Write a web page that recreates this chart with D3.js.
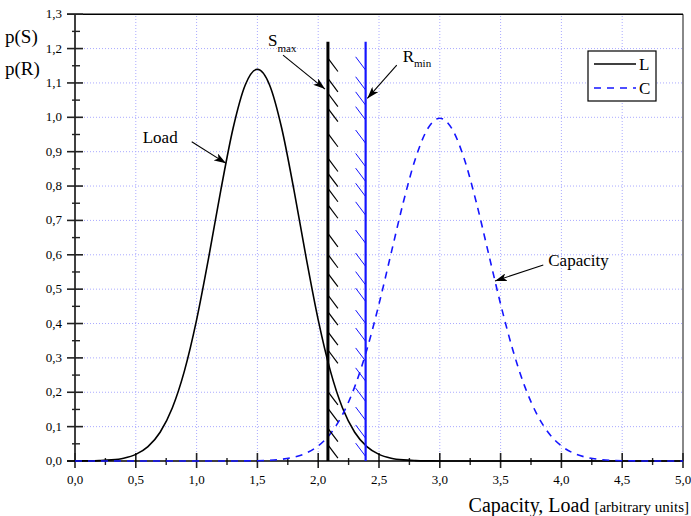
<!DOCTYPE html>
<html>
<head>
<meta charset="utf-8">
<script src="https://cdn.jsdelivr.net/npm/d3@7"></script>
<style>
  body { margin: 0; background: #fff; }
  svg text { font-family: "Liberation Serif", "Times New Roman", serif; fill: #000; }
</style>
</head>
<body>
<div id="chart"></div>
<script>
// x positions of the sampled curves
const xValues = [0.0, 0.1, 0.2, 0.3, 0.4, 0.5, 0.6, 0.7, 0.8, 0.9, 1.0, 1.1, 1.2, 1.3, 1.4, 1.5,
  1.6, 1.7, 1.8, 1.9, 2.0, 2.1, 2.2, 2.3, 2.4, 2.5, 2.6, 2.7, 2.8, 2.9, 3.0, 3.1, 3.2, 3.3,
  3.4, 3.5, 3.6, 3.7, 3.8, 3.9, 4.0, 4.1, 4.2, 4.3, 4.4, 4.5, 4.6, 4.7, 4.8, 4.9, 5.0];

// Load L, p(S)
const loadValues = [0.0001, 0.0004, 0.0012, 0.0032, 0.0082, 0.0192, 0.0418, 0.0837, 0.1543, 0.2623,
  0.4108, 0.5933, 0.7896, 0.9682, 1.0942, 1.1398, 1.0942, 0.9682, 0.7896, 0.5933, 0.4108,
  0.2623, 0.1543, 0.0837, 0.0418, 0.0192, 0.0082, 0.0032, 0.0012, 0.0004, 0.0001, 0, 0, 0,
  0, 0, 0, 0, 0, 0, 0, 0, 0, 0, 0, 0, 0, 0, 0, 0, 0];

// Capacity C, p(R)
const capacityValues = [0, 0, 0, 0, 0, 0, 0, 0, 0, 0, 0, 0, 0, 0.0001, 0.0003, 0.0009, 0.0022,
  0.0051, 0.0111, 0.0228, 0.0438, 0.0794, 0.1350, 0.2157, 0.3238, 0.4566, 0.6049, 0.7528,
  0.8802, 0.9667, 0.9974, 0.9667, 0.8802, 0.7528, 0.6049, 0.4566, 0.3238, 0.2157, 0.1350,
  0.0794, 0.0438, 0.0228, 0.0111, 0.0051, 0.0022, 0.0009, 0.0003, 0.0001, 0, 0, 0];

const sMax = 2.08;
const rMin = 2.39;
const limitTop = 1.22;

// tops of the hatch strokes along the two limit lines
const sHatch = [1.172, 1.113, 1.070, 1.026, 0.953, 0.881, 0.837, 0.793, 0.745, 0.662, 0.601,
  0.546, 0.483, 0.434, 0.376, 0.323, 0.202, 0.153, 0.095, 0.047];
const rHatch = [1.176, 1.118, 1.074, 1.031, 0.963, 0.895, 0.852, 0.808, 0.754, 0.672, 0.605,
  0.551, 0.503, 0.439, 0.387, 0.329, 0.271, 0.212, 0.157, 0.105, 0.052];

const xMajor = [0, 0.5, 1, 1.5, 2, 2.5, 3, 3.5, 4, 4.5, 5];
const xMinor = [0.25, 0.75, 1.25, 1.75, 2.25, 2.75, 3.25, 3.75, 4.25, 4.75];
const yMajor = [0, 0.1, 0.2, 0.3, 0.4, 0.5, 0.6, 0.7, 0.8, 0.9, 1.0, 1.1, 1.2, 1.3];
const yMinor = [0.05, 0.15, 0.25, 0.35, 0.45, 0.55, 0.65, 0.75, 0.85, 0.95, 1.05, 1.15, 1.25];

const W = 691, H = 516;
const serif = '"Liberation Serif", "Times New Roman", serif';
const svg = d3.select('#chart').append('svg')
  .attr('width', W).attr('height', H)
  .attr('font-family', serif);

const x = d3.scaleLinear().domain([0, 5]).range([75, 683]);
const y = d3.scaleLinear().domain([0, 1.3]).range([461, 14.2]);
const fmt = d => d3.format('.1f')(d).replace('.', ',');

const blue = '#1515ff';
const gridColor = '#aaaaff';

// grid
svg.append('g')
  .selectAll('line')
  .data(xMajor.filter(d => d > 0 && d < 5))
  .enter().append('line')
  .attr('x1', d => x(d)).attr('x2', d => x(d))
  .attr('y1', y(0)).attr('y2', y(1.3))
  .attr('stroke', gridColor).attr('stroke-dasharray', '1,2');

svg.append('g')
  .selectAll('line')
  .data(yMajor.filter(d => d > 0 && d < 1.3))
  .enter().append('line')
  .attr('x1', x(0)).attr('x2', x(5))
  .attr('y1', d => y(d)).attr('y2', d => y(d))
  .attr('stroke', gridColor).attr('stroke-dasharray', '1,2');

// frame
svg.append('line')
  .attr('x1', x(5)).attr('x2', x(5)).attr('y1', y(1.3)).attr('y2', y(0))
  .attr('stroke', '#888').attr('stroke-width', 2);
svg.append('line')
  .attr('x1', x(0) - 8).attr('x2', x(5)).attr('y1', y(1.3)).attr('y2', y(1.3))
  .attr('stroke', '#000').attr('stroke-width', 1.5);

// axes
const yAxis = svg.append('g');
yAxis.append('line')
  .attr('x1', x(0)).attr('x2', x(0)).attr('y1', y(1.3)).attr('y2', y(0))
  .attr('stroke', '#000').attr('stroke-width', 1.5);
yAxis.selectAll('line.major').data(yMajor).enter().append('line')
  .attr('class', 'major')
  .attr('x1', x(0) - 8).attr('x2', x(0) + 8)
  .attr('y1', d => y(d)).attr('y2', d => y(d))
  .attr('stroke', '#222').attr('stroke-width', 1.6);
yAxis.selectAll('line.minor').data(yMinor).enter().append('line')
  .attr('class', 'minor')
  .attr('x1', x(0) - 3).attr('x2', x(0) + 5)
  .attr('y1', d => y(d)).attr('y2', d => y(d))
  .attr('stroke', '#222').attr('stroke-width', 1.4);
yAxis.selectAll('text').data(yMajor).enter().append('text')
  .attr('x', x(0) - 13).attr('y', d => y(d) + 4)
  .attr('text-anchor', 'end')
  .style('font-size', '13px')
  .text(fmt);

const xAxis = svg.append('g');
xAxis.selectAll('line.major').data(xMajor).enter().append('line')
  .attr('class', 'major')
  .attr('x1', d => x(d)).attr('x2', d => x(d))
  .attr('y1', y(0) - 8).attr('y2', y(0) + 7)
  .attr('stroke', '#222').attr('stroke-width', 1.6);
xAxis.selectAll('line.minor').data(xMinor).enter().append('line')
  .attr('class', 'minor')
  .attr('x1', d => x(d)).attr('x2', d => x(d))
  .attr('y1', y(0) - 3).attr('y2', y(0) + 4)
  .attr('stroke', '#222').attr('stroke-width', 1.4);
xAxis.selectAll('text').data(xMajor).enter().append('text')
  .attr('x', d => x(d)).attr('y', y(0) + 23)
  .attr('text-anchor', 'middle')
  .style('font-size', '13px')
  .text(fmt);

// curves
const line = d3.line()
  .x(d => x(d[0]))
  .y(d => y(d[1]))
  .curve(d3.curveMonotoneX);

svg.append('path')
  .datum(xValues.map((v, i) => [v, loadValues[i]]))
  .attr('d', line)
  .attr('fill', 'none').attr('stroke', '#000').attr('stroke-width', 1.6);

svg.append('path')
  .datum(xValues.map((v, i) => [v, capacityValues[i]]))
  .attr('d', line)
  .attr('fill', 'none').attr('stroke', blue).attr('stroke-width', 1.6)
  .attr('stroke-dasharray', '7,6');

// bottom axis line over the curves
xAxis.append('line')
  .attr('x1', x(0) - 8).attr('x2', x(5)).attr('y1', y(0)).attr('y2', y(0))
  .attr('stroke', '#000').attr('stroke-width', 1.5);

// limit lines with hatching
const hatchW = 0.082, hatchH = 0.0387;

svg.append('g').selectAll('line').data(sHatch).enter().append('line')
  .attr('x1', x(sMax)).attr('y1', d => y(d))
  .attr('x2', x(sMax + hatchW)).attr('y2', d => y(d - hatchH))
  .attr('stroke', '#000').attr('stroke-width', 1.2);

svg.append('g').selectAll('line').data(rHatch).enter().append('line')
  .attr('x1', x(rMin - hatchW)).attr('y1', d => y(d))
  .attr('x2', x(rMin)).attr('y2', d => y(d - hatchH))
  .attr('stroke', blue).attr('stroke-width', 1);

svg.append('line')
  .attr('x1', x(sMax)).attr('x2', x(sMax)).attr('y1', y(0)).attr('y2', y(limitTop))
  .attr('stroke', '#000').attr('stroke-width', 3);
svg.append('line')
  .attr('x1', x(rMin)).attr('x2', x(rMin)).attr('y1', y(0)).attr('y2', y(limitTop))
  .attr('stroke', blue).attr('stroke-width', 2.2);

// annotations
svg.append('defs').append('marker')
  .attr('id', 'arrow')
  .attr('viewBox', '0 0 12 8')
  .attr('refX', 12).attr('refY', 4)
  .attr('markerWidth', 12).attr('markerHeight', 8)
  .attr('markerUnits', 'userSpaceOnUse')
  .attr('orient', 'auto')
  .append('path').attr('d', 'M0,0 L12,4 L0,8 L3,4 Z').attr('fill', '#000');

const arrows = [
  {from: [0.96, 0.929], to: [1.242, 0.866]},
  {from: [1.711, 1.181], to: [2.056, 1.082]},
  {from: [2.646, 1.152], to: [2.404, 1.055]},
  {from: [3.851, 0.570], to: [3.454, 0.524]}
];
svg.append('g').selectAll('line').data(arrows).enter().append('line')
  .attr('x1', d => x(d.from[0])).attr('y1', d => y(d.from[1]))
  .attr('x2', d => x(d.to[0])).attr('y2', d => y(d.to[1]))
  .attr('stroke', '#000').attr('stroke-width', 1.1)
  .attr('marker-end', 'url(#arrow)');

svg.append('text')
  .attr('x', x(0.557)).attr('y', y(0.926))
  .style('font-size', '17px').text('Load');
svg.append('text')
  .attr('x', x(3.892)).attr('y', y(0.567))
  .style('font-size', '17px').text('Capacity');

const sLabel = svg.append('text')
  .attr('x', x(1.587)).attr('y', y(1.207))
  .style('font-size', '17px');
sLabel.append('tspan').text('S');
sLabel.append('tspan').attr('dy', 6).style('font-size', '11px').text('max');

const rLabel = svg.append('text')
  .attr('x', x(2.695)).attr('y', y(1.162))
  .style('font-size', '17px');
rLabel.append('tspan').text('R');
rLabel.append('tspan').attr('dy', 5).style('font-size', '11px').text('min');

// y label
svg.append('text').attr('x', 5).attr('y', 43).style('font-size', '19px').text('p(S)');
svg.append('text').attr('x', 5).attr('y', 75).style('font-size', '19px').text('p(R)');

// x label
const xLabel = svg.append('text')
  .attr('x', 689).attr('y', 512)
  .attr('text-anchor', 'end')
  .style('font-size', '20px');
xLabel.append('tspan').text('Capacity, Load ');
xLabel.append('tspan').style('font-size', '15px').text('[arbitrary units]');

// legend
const legend = svg.append('g').attr('transform', 'translate(588,51)');
legend.append('rect')
  .attr('width', 68).attr('height', 50)
  .attr('fill', '#fff').attr('stroke', '#000').attr('stroke-width', 1.2);
const legendData = [
  {label: 'L', color: '#000', dash: null},
  {label: 'C', color: blue, dash: '7,6'}
];
legend.selectAll('line').data(legendData).enter().append('line')
  .attr('x1', 6).attr('x2', 48)
  .attr('y1', (d, i) => 13 + i * 24).attr('y2', (d, i) => 13 + i * 24)
  .attr('stroke', d => d.color).attr('stroke-width', 1.6)
  .attr('stroke-dasharray', d => d.dash);
legend.selectAll('text').data(legendData).enter().append('text')
  .attr('x', 51).attr('y', (d, i) => 19 + i * 24)
  .style('font-size', '17px')
  .text(d => d.label);
</script>
</body>
</html>
